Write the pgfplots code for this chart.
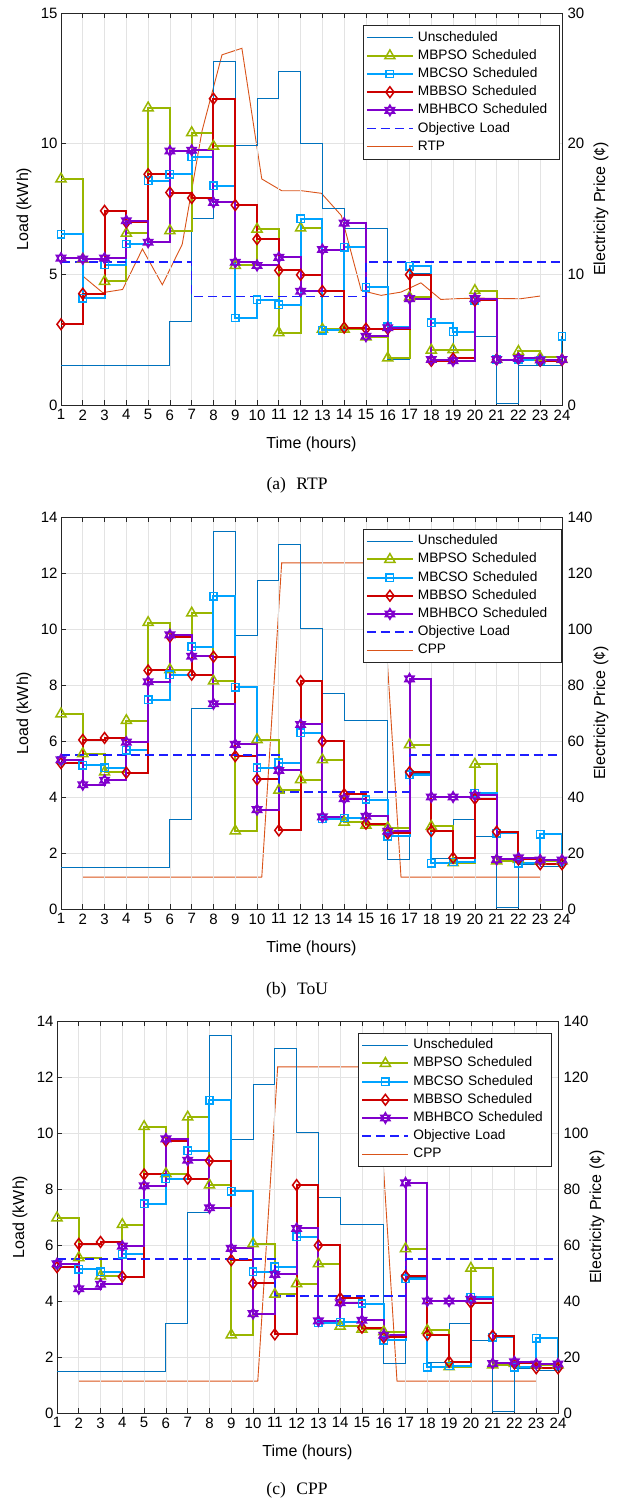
\documentclass[border=0pt]{standalone}
\usepackage{pgfplots}
\pgfplotsset{compat=1.18}
\usepackage{pgfplotstable}
\usepackage{fontspec}
\setmainfont{Liberation Sans}
\newfontfamily\capfont{Liberation Serif}

\definecolor{cUns}{RGB}{0,114,189}
\definecolor{cPSO}{RGB}{153,182,0}
\definecolor{cCSO}{RGB}{0,163,255}
\definecolor{cBSO}{RGB}{204,0,0}
\definecolor{cHBCO}{RGB}{128,0,204}
\definecolor{cObj}{RGB}{30,30,255}
\definecolor{cPrice}{RGB}{217,83,25}

% six-pointed star built from two triangles
\pgfdeclareplotmark{hexagram}{%
  \pgfpathmoveto{\pgfqpointpolar{90}{\pgfplotmarksize}}%
  \pgfpathlineto{\pgfqpointpolar{210}{\pgfplotmarksize}}%
  \pgfpathlineto{\pgfqpointpolar{330}{\pgfplotmarksize}}%
  \pgfpathclose
  \pgfpathmoveto{\pgfqpointpolar{270}{\pgfplotmarksize}}%
  \pgfpathlineto{\pgfqpointpolar{30}{\pgfplotmarksize}}%
  \pgfpathlineto{\pgfqpointpolar{150}{\pgfplotmarksize}}%
  \pgfpathclose
  \pgfusepathqstroke
}

% hourly loads, RTP case
\pgfplotstableread{
h  uns    pso    cso    bso    hbco   obj
1  1.50   8.65   6.54   3.09   5.62   5.48
2  1.50   5.58   4.09   4.26   5.59   5.48
3  1.50   4.73   5.37   7.43   5.62   5.48
4  1.50   6.57   6.16   6.99   7.05   5.48
5  1.50  11.37   8.58   8.83   6.23   5.48
6  3.20   6.67   8.83   8.13   9.72   5.48
7  7.15  10.42   9.50   7.92   9.75   4.15
8 13.15   9.90   8.39  11.72   7.75   4.15
9  9.95   5.34   3.33   7.65   5.46   4.15
10 11.72  6.73   4.03   6.35   5.34   4.15
11 12.77  2.77   3.84   5.15   5.65   4.15
12 10.00  6.77   7.12   4.98   4.35   4.15
13  7.54  2.90   2.86   4.36   5.95   4.15
14  6.76  2.90   6.04   2.96   6.96   4.15
15  6.76  2.60   4.51   2.92   2.63   5.48
16  1.76  1.80   2.99   2.92   2.96   5.48
17  5.04  4.13   5.31   4.99   4.07   5.48
18  1.75  2.10   3.15   1.69   1.74   5.48
19  2.80  2.12   2.80   1.78   1.69   5.48
20  2.63  4.38   4.00   4.00   4.07   5.48
21  0.06  1.74   1.74   1.74   1.74   5.48
22  1.52  2.05   1.74   1.78   1.78   5.48
23  1.52  1.82   1.70   1.69   1.72   5.48
24  1.52  1.74   2.63   1.72   1.74   5.48
}\loadRTP

% hourly loads, ToU / CPP case
\pgfplotstableread{
h  uns    pso    cso    bso    hbco   obj
1  1.50   6.97   5.31   5.21   5.33   5.49
2  1.50   5.55   5.13   6.04   4.44   5.49
3  1.50   4.89   5.05   6.11   4.60   5.49
4  1.50   6.73   5.67   4.87   5.96   5.49
5  1.50  10.23   7.48   8.52   8.12   5.49
6  3.19   8.55   8.36   9.73   9.79   5.49
7  7.16  10.57   9.37   8.37   9.03   5.49
8 13.48   8.14  11.17   9.01   7.33   5.49
9  9.77   2.79   7.92   5.46   5.88   5.49
10 11.72  6.05   5.04   4.63   3.55   5.49
11 13.03  4.24   5.23   2.81   4.95   4.18
12 10.02  4.62   6.29   8.14   6.59   4.18
13  7.70  5.33   3.23   5.99   3.29   4.18
14  6.75  3.10   3.25   4.10   3.94   4.18
15  6.75  2.99   3.91   3.05   3.31   4.18
16  1.78  2.90   2.60   2.70   2.78   4.18
17  4.85  5.87   4.80   4.89   8.22   5.49
18  1.80  2.95   1.63   2.79   4.00   5.49
19  3.19  1.65   1.68   1.83   4.00   5.49
20  2.60  5.17   4.13   3.94   4.06   5.49
21  0.07  1.72   2.70   2.76   1.77   5.49
22  1.60  1.77   1.64   1.77   1.83   5.49
23  1.52  1.72   2.67   1.60   1.75   5.49
24  1.52  1.72   1.70   1.60   1.75   5.49
}\loadCPP

% real-time price (cents)
\pgfplotstableread{
x       p
2.0000  9.87
2.9130  8.60
3.8261  8.84
4.7391  11.94
5.6522  9.20
6.5652  12.30
7.4783  21.00
8.3913  26.80
9.3043  27.30
10.2174 17.30
11.1304 16.40
12.0435 16.40
12.9565 16.20
13.8696 14.50
14.7826 8.77
15.6957 8.39
16.6087 8.64
17.5217 9.35
18.4348 8.08
19.3478 8.15
20.2609 8.18
21.1739 8.15
22.0870 8.13
23.0000 8.34
}\priceRTP

% critical peak price (cents)
\pgfplotstableread{
x       p
2.0000  11.4
2.9130  11.4
3.8261  11.4
4.7391  11.4
5.6522  11.4
6.5652  11.4
7.4783  11.4
8.3913  11.4
9.3043  11.4
10.2174 11.4
11.1304 123.6
12.0435 123.6
12.9565 123.6
13.8696 123.6
14.7826 123.6
15.6957 123.6
16.6087 11.4
17.5217 11.4
18.4348 11.4
19.3478 11.4
20.2609 11.4
21.1739 11.4
22.0870 11.4
23.0000 11.4
}\priceCPP

\pgfplotsset{
  panel/.style={scale only axis, width=501pt, height=392pt, xmin=1, xmax=24,
    axis line style={line width=0.7pt, black!85},
    every tick/.style={line width=0.7pt, black!85},
    tick align=inside, major tick length=5pt,
    tick label style={font=\fontsize{15}{18}\selectfont},
    label style={font=\fontsize{16}{19}\selectfont},
    /pgf/number format/assume math mode=true},
  loadpanel/.style={panel, xtick={1,...,24}, ytick pos=left, xtick pos=both,
    grid=major, grid style={line width=0.7pt, gray!22},
    xticklabel style={yshift=-1pt},
    xlabel={Time (hours)}, ylabel={Load (kWh)},
    xlabel style={at={(axis description cs:0.5,-0.0995)}, anchor=center},
    ylabel style={at={(axis description cs:-0.074,0.5)}, anchor=center},
    legend cell align=left,
    legend image code/.code={\draw[mark repeat=2, mark phase=2, #1]
      plot coordinates {(0pt,0pt) (23pt,0pt) (46pt,0pt)};},
    legend style={draw=black!85, line width=0.6pt, fill=white,
      inner xsep=3pt, inner ysep=3pt, row sep=0pt,
      font=\fontsize{13.7}{16}\selectfont,
      nodes={inner xsep=4pt, inner ysep=2.5pt, text height=10.2pt, text depth=3pt}}},
  pricepanel/.style={panel, axis y line*=right, axis x line=none,
    yticklabel style={xshift=2pt},
    ylabel={Electricity Price (¢)},
    ylabel style={at={(axis description cs:1.078,0.5)}, anchor=center}},
  uns/.style={cUns, line width=0.9pt, const plot, no marks},
  pso/.style={cPSO, line width=2pt, const plot, mark=triangle, mark size=5.8pt, mark options={solid, line width=1.5pt}},
  cso/.style={cCSO, line width=2pt, const plot, mark=square, mark size=3.7pt, mark options={solid, line width=1.5pt}},
  bso/.style={cBSO, line width=2pt, const plot, mark=diamond, mark size=5.4pt, mark options={solid, line width=1.5pt}},
  hbco/.style={cHBCO, line width=2pt, const plot, mark=hexagram, mark size=5.4pt, mark options={solid, line width=1.4pt}},
  obj/.style={cObj, line width=1.6pt, const plot, no marks, dash pattern=on 9pt off 5pt},
  price/.style={cPrice, line width=0.9pt, no marks},
}

\begin{document}
\begin{tikzpicture}
\path[use as bounding box] (0pt,0pt) rectangle (625pt,-1502pt);

% ---------- (a) RTP ----------
\begin{axis}[pricepanel, at={(61pt,-405pt)}, anchor=south west,
  ymin=0, ymax=30, ytick={0,10,20,30}]
  \addplot[price] table[x=x, y=p] {\priceRTP};
\end{axis}
\begin{axis}[loadpanel, at={(61pt,-405pt)}, anchor=south west,
  ymin=0, ymax=15, ytick={0,5,10,15},
  legend style={at={(0.602,0.969)}, anchor=north west, nodes={text width=134pt}}]
  \addplot[uns]  table[x=h, y=uns]  {\loadRTP}; \addlegendentry{Unscheduled}
  \addplot[pso]  table[x=h, y=pso]  {\loadRTP}; \addlegendentry{MBPSO Scheduled}
  \addplot[cso]  table[x=h, y=cso]  {\loadRTP}; \addlegendentry{MBCSO Scheduled}
  \addplot[bso]  table[x=h, y=bso]  {\loadRTP}; \addlegendentry{MBBSO Scheduled}
  \addplot[hbco] table[x=h, y=hbco] {\loadRTP}; \addlegendentry{MBHBCO Scheduled}
  \addplot[obj]  table[x=h, y=obj]  {\loadRTP}; \addlegendentry{Objective Load}
  \addlegendimage{price} \addlegendentry{RTP}
\end{axis}
\node[font=\capfont\fontsize{17.5}{20}\selectfont] at (297pt,-485pt) {(a)\hspace{0.6em}RTP};

% ---------- (b) ToU ----------
\begin{axis}[pricepanel, at={(61pt,-909pt)}, anchor=south west,
  ymin=0, ymax=140, ytick={0,20,...,140}]
  \addplot[price] table[x=x, y=p] {\priceCPP};
\end{axis}
\begin{axis}[loadpanel, at={(61pt,-909pt)}, anchor=south west,
  ymin=0, ymax=14, ytick={0,2,...,14},
  legend style={at={(0.602,0.970)}, anchor=north west, nodes={text width=136pt}}]
  \addplot[uns]  table[x=h, y=uns]  {\loadCPP}; \addlegendentry{Unscheduled}
  \addplot[pso]  table[x=h, y=pso]  {\loadCPP}; \addlegendentry{MBPSO Scheduled}
  \addplot[cso]  table[x=h, y=cso]  {\loadCPP}; \addlegendentry{MBCSO Scheduled}
  \addplot[bso]  table[x=h, y=bso]  {\loadCPP}; \addlegendentry{MBBSO Scheduled}
  \addplot[hbco] table[x=h, y=hbco] {\loadCPP}; \addlegendentry{MBHBCO Scheduled}
  \addplot[obj]  table[x=h, y=obj]  {\loadCPP}; \addlegendentry{Objective Load}
  \addlegendimage{price} \addlegendentry{CPP}
\end{axis}
\node[font=\capfont\fontsize{17.5}{20}\selectfont] at (297pt,-990pt) {(b)\hspace{0.6em}ToU};

% ---------- (c) CPP ----------
\begin{axis}[pricepanel, at={(57pt,-1413pt)}, anchor=south west,
  ymin=0, ymax=140, ytick={0,20,...,140}]
  \addplot[price] table[x=x, y=p] {\priceCPP};
\end{axis}
\begin{axis}[loadpanel, at={(57pt,-1413pt)}, anchor=south west,
  ymin=0, ymax=14, ytick={0,2,...,14},
  legend style={at={(0.601,0.970)}, anchor=north west, nodes={text width=131pt}}]
  \addplot[uns]  table[x=h, y=uns]  {\loadCPP}; \addlegendentry{Unscheduled}
  \addplot[pso]  table[x=h, y=pso]  {\loadCPP}; \addlegendentry{MBPSO Scheduled}
  \addplot[cso]  table[x=h, y=cso]  {\loadCPP}; \addlegendentry{MBCSO Scheduled}
  \addplot[bso]  table[x=h, y=bso]  {\loadCPP}; \addlegendentry{MBBSO Scheduled}
  \addplot[hbco] table[x=h, y=hbco] {\loadCPP}; \addlegendentry{MBHBCO Scheduled}
  \addplot[obj]  table[x=h, y=obj]  {\loadCPP}; \addlegendentry{Objective Load}
  \addlegendimage{price} \addlegendentry{CPP}
\end{axis}
\node[font=\capfont\fontsize{17.5}{20}\selectfont] at (297pt,-1490pt) {(c)\hspace{0.6em}CPP};
\end{tikzpicture}
\end{document}
